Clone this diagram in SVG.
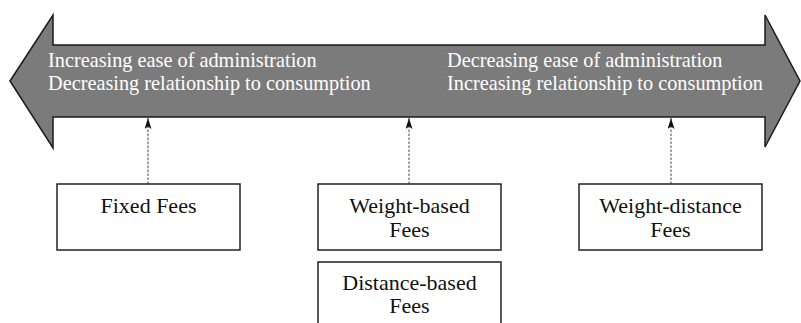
<svg xmlns="http://www.w3.org/2000/svg" width="801" height="323" viewBox="0 0 801 323">
<style>
text{font-family:"Liberation Serif","DejaVu Serif",serif}
.arrowtxt{font-size:20.3px;fill:#ffffff}
.box{fill:#ffffff;stroke:#222222;stroke-width:1.5}
.boxtxt{font-size:22px;fill:#111111;text-anchor:middle}
.conn{stroke:#444444;stroke-width:1;stroke-dasharray:2.5,1.5;fill:none}
</style>
<defs>
<marker id="ah" markerWidth="11" markerHeight="7" refX="11" refY="3.5" orient="auto" markerUnits="userSpaceOnUse" viewBox="0 0 11 7">
<path d="M0,0 L11,3.5 L0,7 L2.5,3.5 Z" fill="#111111"/>
</marker>
</defs>
<g id="bigarrow">
<polygon points="10,81 53,15 53,45 765,45 765,15 800,81 765,147 765,117 53,117 53,148" fill="#7b7b7b" stroke="#1a1a1a" stroke-width="1.5" stroke-linejoin="miter"/>
<text class="arrowtxt" x="48" y="67">Increasing ease of administration</text>
<text class="arrowtxt" x="48" y="90">Decreasing relationship to consumption</text>
<text class="arrowtxt" x="447" y="67">Decreasing ease of administration</text>
<text class="arrowtxt" x="447" y="90">Increasing relationship to consumption</text>
</g>
<g id="connectors">
<line class="conn" x1="148" y1="184" x2="148" y2="118" marker-end="url(#ah)"/>
<line class="conn" x1="409" y1="184" x2="409" y2="118" marker-end="url(#ah)"/>
<line class="conn" x1="671" y1="184" x2="671" y2="118" marker-end="url(#ah)"/>
</g>
<g id="fixed">
<rect class="box" x="57" y="184" width="183" height="66"/>
<text class="boxtxt" x="148.5" y="213">Fixed Fees</text>
</g>
<g id="weight">
<rect class="box" x="318" y="184" width="183" height="66"/>
<text class="boxtxt" x="409.5" y="213">Weight-based</text>
<text class="boxtxt" x="409.5" y="237">Fees</text>
</g>
<g id="distance">
<rect class="box" x="318" y="262" width="183" height="70"/>
<text class="boxtxt" x="409.5" y="290">Distance-based</text>
<text class="boxtxt" x="409.5" y="313">Fees</text>
</g>
<g id="weightdistance">
<rect class="box" x="579" y="184" width="183" height="66"/>
<text class="boxtxt" x="670.5" y="213">Weight-distance</text>
<text class="boxtxt" x="670.5" y="237">Fees</text>
</g>
</svg>
